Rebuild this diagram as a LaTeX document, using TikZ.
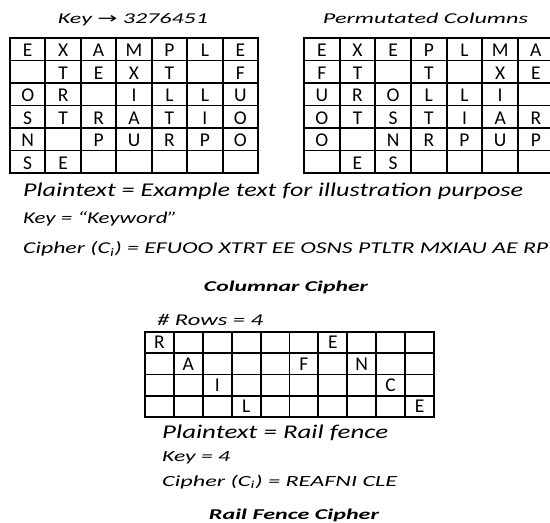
\documentclass[tikz,border=0pt]{standalone}
\usepackage{fontspec}
\setmainfont{Carlito}
\newfontfamily\arrowfont{DejaVu Sans}
\newcommand{\FitText}[2]{\resizebox{#1}{\height}{#2}}
\begin{document}
\begin{tikzpicture}[x=1pt,y=-1pt,
  gridline/.style={line width=1.9pt, line cap=rect},
  cellletter/.style={inner sep=0pt, anchor=base, font=\fontsize{19.5}{20}\selectfont},
  txtleft/.style={inner sep=0pt, anchor=base west},
  txtmid/.style={inner sep=0pt, anchor=base}]
\useasboundingbox (0,0) rectangle (550,523);
% ---------- left grid (plaintext by rows) ----------
\foreach \i in {0,...,7} \draw[gridline] ({10+\i*35.43},38) -- ({10+\i*35.43},173);
\foreach \j in {0,...,6} \draw[gridline] (10,{38+\j*22.5}) -- (258,{38+\j*22.5});
\foreach \t/\c/\r in {E/1/1,X/2/1,A/3/1,M/4/1,P/5/1,L/6/1,E/7/1,
  T/2/2,E/3/2,X/4/2,T/5/2,F/7/2,
  O/1/3,R/2/3,I/4/3,L/5/3,L/6/3,U/7/3,
  S/1/4,T/2/4,R/3/4,A/4/4,T/5/4,I/6/4,O/7/4,
  N/1/5,P/3/5,U/4/5,R/5/5,P/6/5,O/7/5,
  S/1/6,E/2/6}
  \node[cellletter] (a-\r-\c) at ({10+(\c-0.5)*35.43},{38+(\r-1)*22.5+18.5}) {\t};
% ---------- right grid (permutated columns) ----------
\foreach \i in {0,...,7} \draw[gridline] ({304+\i*35.67},38) -- ({304+\i*35.67},173);
\foreach \j in {0,...,6} \draw[gridline] (304,{38+\j*22.5}) -- (554,{38+\j*22.5});
\foreach \t/\c/\r in {E/1/1,X/2/1,E/3/1,P/4/1,L/5/1,M/6/1,A/7/1,
  F/1/2,T/2/2,T/4/2,X/6/2,E/7/2,
  U/1/3,R/2/3,O/3/3,L/4/3,L/5/3,I/6/3,
  O/1/4,T/2/4,S/3/4,T/4/4,I/5/4,A/6/4,R/7/4,
  O/1/5,N/3/5,R/4/5,P/5/5,U/6/5,P/7/5,
  E/2/6,S/3/6}
  \node[cellletter] (b-\r-\c) at ({304+(\c-0.5)*35.67},{38+(\r-1)*22.5+18.5}) {\t};
% ---------- columnar texts ----------
\node[txtmid] (keyt) at (133,23.3) {\FitText{150pt}{\fontsize{15}{16}\selectfont\itshape Key {\arrowfont\upshape →} 3276451}};
\node[txtmid] (permt) at (425.5,23.3) {\FitText{205pt}{\fontsize{15}{16}\selectfont\itshape Permutated Columns}};
\node[txtleft] (plain1) at (23,196.7) {\FitText{500pt}{\fontsize{19.5}{20}\selectfont\itshape Plaintext = Example text for illustration purpose}};
\node[txtleft] (key1) at (23,223.5) {\FitText{154pt}{\fontsize{16.5}{17}\selectfont\itshape Key = “Keyword”}};
\node[txtleft] (ciph1) at (23,253.5) {\FitText{525pt}{\fontsize{16.5}{17}\selectfont\itshape Cipher (C\textsubscript{i}) = EFUOO XTRT EE OSNS PTLTR MXIAU AE RP}};
\node[txtmid] (title1) at (286,291) {\FitText{164pt}{\fontsize{15}{16}\selectfont\bfseries\itshape Columnar Cipher}};
% ---------- rail fence grid ----------
\foreach \i in {0,...,10} \draw[gridline] ({145+\i*28.9},332) -- ({145+\i*28.9},417);
\foreach \j in {0,...,4} \draw[gridline] (145,{332+\j*21.25}) -- (434,{332+\j*21.25});
\foreach \t/\c/\r in {R/1/1,E/7/1,A/2/2,F/6/2,N/8/2,I/3/3,C/9/3,L/4/4,E/10/4}
  \node[cellletter] (r-\r-\c) at ({145+(\c-0.5)*28.9},{332+(\r-1)*21.25+16.8}) {\t};
\node[txtleft] (rows) at (157,325.5) {\FitText{106pt}{\fontsize{16.5}{17}\selectfont\itshape \# Rows = 4}};
\node[txtleft] (plain2) at (162,438.5) {\FitText{226pt}{\fontsize{19.5}{20}\selectfont\itshape Plaintext = Rail fence}};
\node[txtleft] (key2) at (162,461) {\FitText{68pt}{\fontsize{15.5}{16}\selectfont\itshape Key = 4}};
\node[txtleft] (ciph2) at (162,486) {\FitText{235pt}{\fontsize{15.5}{16}\selectfont\itshape Cipher (C\textsubscript{i}) = REAFNI CLE}};
\node[txtmid] (title2) at (294,519.5) {\FitText{170pt}{\fontsize{15}{16}\selectfont\bfseries\itshape Rail Fence Cipher}};
\end{tikzpicture}
\end{document}
